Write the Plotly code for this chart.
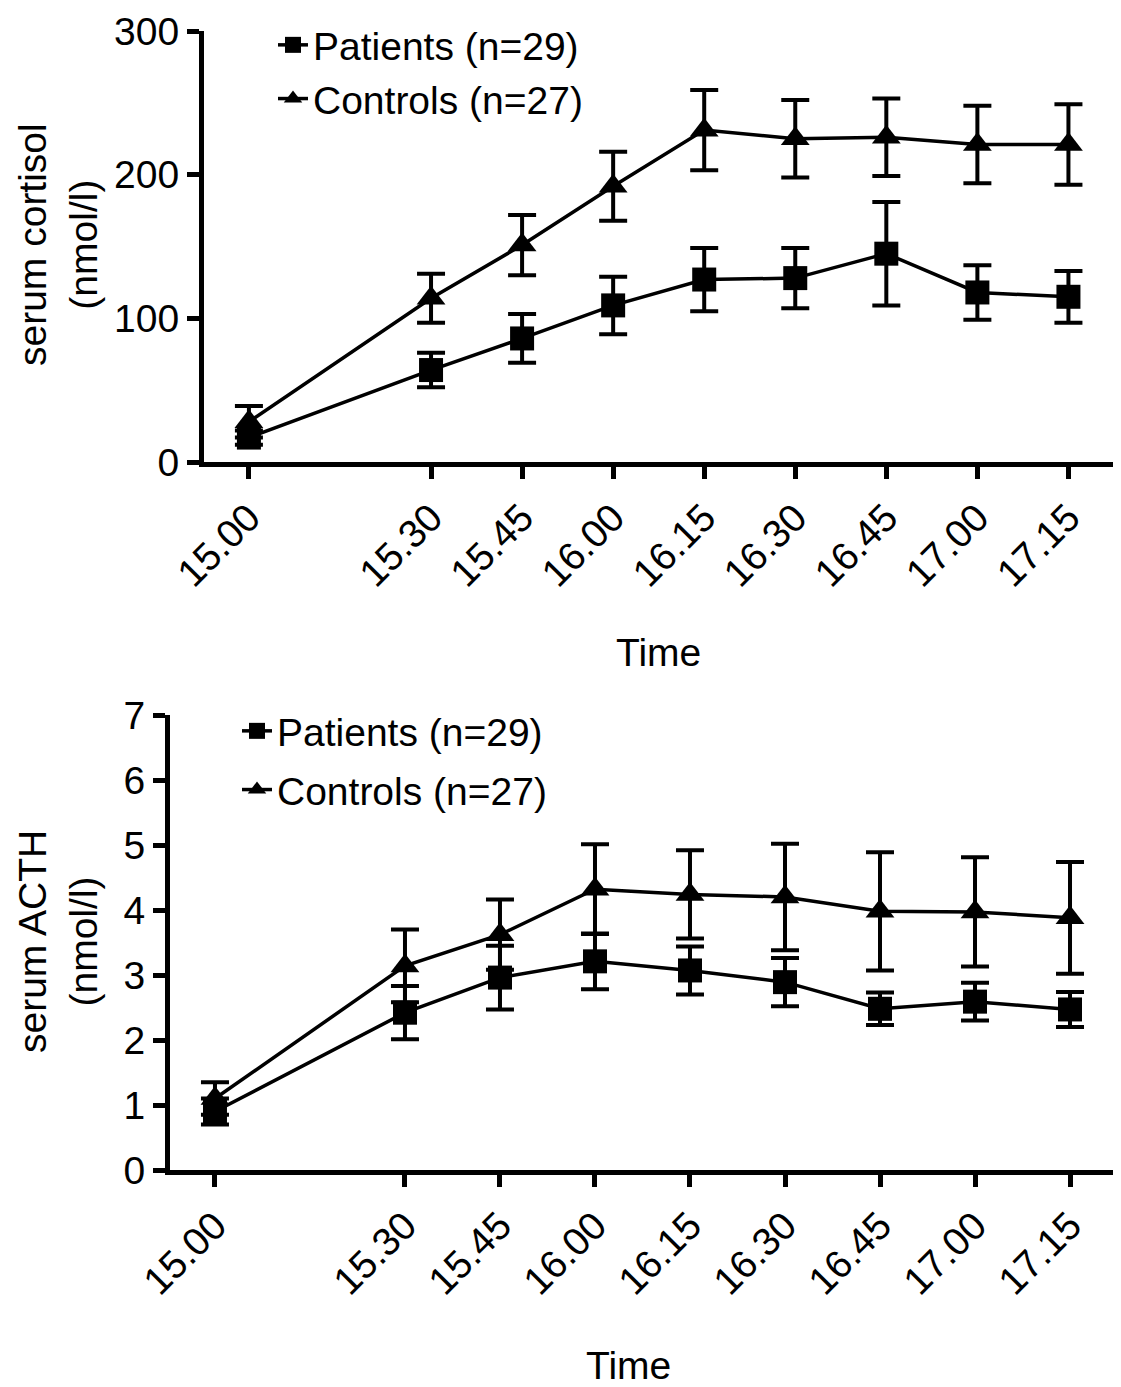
import plotly.graph_objects as go

# window size and the page's default 8px body margin
WIN_W, WIN_H, OFF = 1121, 1387, 8
W, H = WIN_W - OFF, WIN_H - OFF
FONT = "Liberation Sans, Arial, sans-serif"

# ---- data ----
time_min = [0, 30, 45, 60, 75, 90, 105, 120, 135]
time_labels = ["15.00", "15.30", "15.45", "16.00", "16.15", "16.30", "16.45", "17.00", "17.15"]

cortisol_patients = [17, 64, 86, 109, 127, 128, 145, 118, 115]
cortisol_patients_err = [5, 12, 17, 20, 22, 21, 36, 19, 18]
cortisol_controls = [28, 114, 151, 192, 231, 225, 226, 221, 221]
cortisol_controls_err = [11, 17, 21, 24, 28, 27, 27, 27, 28]

acth_patients = [0.9, 2.42, 2.96, 3.21, 3.07, 2.89, 2.48, 2.59, 2.47]
acth_patients_err = [0.2, 0.41, 0.49, 0.43, 0.37, 0.37, 0.25, 0.29, 0.27]
acth_controls = [1.1, 3.14, 3.62, 4.32, 4.24, 4.2, 3.98, 3.97, 3.88]
acth_controls_err = [0.25, 0.56, 0.54, 0.69, 0.68, 0.82, 0.91, 0.84, 0.86]

series_names = ["Patients (n=29)", "Controls (n=27)"]


def px_x(p):
    return (p - OFF) / W


def px_y(p):
    return 1 - (p - OFF) / H


fig = go.Figure()


def add(xa, ya, y, err, name, symbol, legend, group):
    fig.add_trace(go.Scatter(
        x=time_min, y=y, name=name, mode="lines+markers",
        xaxis=xa, yaxis=ya, legend=legend, legendgroup=group,
        line=dict(color="black", width=3.5),
        marker=dict(symbol=symbol, size=24 if symbol == "square" else 25, color="black"),
        error_y=dict(type="data", array=err, visible=True, color="black",
                     thickness=4, width=14),
        cliponaxis=False,
    ))


add("x", "y", cortisol_patients, cortisol_patients_err, series_names[0], "square", "legend", "a")
add("x", "y", cortisol_controls, cortisol_controls_err, series_names[1], "triangle-up", "legend", "b")
add("x2", "y2", acth_patients, acth_patients_err, series_names[0], "square", "legend2", "c")
add("x2", "y2", acth_controls, acth_controls_err, series_names[1], "triangle-up", "legend2", "d")

axis_common = dict(
    showline=True, linecolor="black", linewidth=5,
    ticks="outside", ticklen=12, tickwidth=4.5, tickcolor="black",
    tickfont=dict(family=FONT, size=39, color="black"),
    showgrid=False, zeroline=False, fixedrange=True, automargin=False,
    ticklabeloverflow="allow",
)

fig.update_layout(
    template="none",
    width=W, height=H,
    margin=dict(l=0, r=0, t=0, b=0, pad=0, autoexpand=False),
    paper_bgcolor="white", plot_bgcolor="white",
    font=dict(family=FONT, size=39, color="black"),
    xaxis=dict(domain=[px_x(204), px_x(1117)], range=[-7.4, 143.0],
               tickvals=time_min, ticktext=time_labels, tickangle=-45,
               anchor="y", **axis_common),
    yaxis=dict(domain=[px_y(462), px_y(31)], range=[0, 300],
               tickvals=[0, 100, 200, 300], anchor="x", **axis_common),
    xaxis2=dict(domain=[px_x(170), 1.0], range=[-7.1, 143.05],
                tickvals=time_min, ticktext=time_labels, tickangle=-45,
                anchor="y2", **axis_common),
    yaxis2=dict(domain=[px_y(1170), px_y(715)], range=[0, 7],
                tickvals=list(range(0, 8)), anchor="x2", **axis_common),
    legend=dict(x=px_x(273), y=px_y(13), xanchor="left", yanchor="top",
                bgcolor="rgba(0,0,0,0)", font=dict(family=FONT, size=39),
                traceorder="normal", tracegroupgap=0, itemwidth=30),
    legend2=dict(x=px_x(237), y=px_y(699), xanchor="left", yanchor="top",
                 bgcolor="rgba(0,0,0,0)", font=dict(family=FONT, size=39),
                 traceorder="grouped", tracegroupgap=5, itemwidth=30),
    showlegend=True,
)

annots = [
    dict(text="serum cortisol<br>(nmol/l)", x=px_x(58), y=px_y(245), textangle=-90),
    dict(text="serum ACTH<br>(nmol/l)", x=px_x(58), y=px_y(942), textangle=-90),
    dict(text="Time", x=px_x(658), y=px_y(652)),
    dict(text="Time", x=px_x(628), y=px_y(1365)),
]
for a in annots:
    fig.add_annotation(xref="paper", yref="paper", xanchor="center", yanchor="middle",
                       showarrow=False, font=dict(family=FONT, size=39, color="black"), **a)

fig.write_html("out.html")
